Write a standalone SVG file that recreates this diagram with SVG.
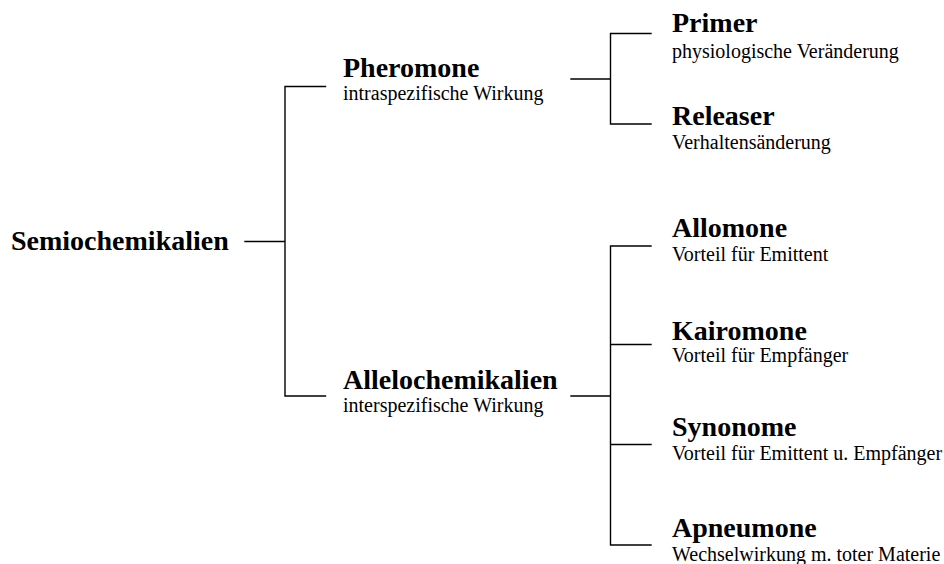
<svg xmlns="http://www.w3.org/2000/svg" width="944" height="564" viewBox="0 0 944 564">
<style>
.t{font-family:"Liberation Serif","Times New Roman",serif;font-weight:bold;font-size:28px;fill:#000}
.s{font-family:"Liberation Serif","Times New Roman",serif;font-size:20px;fill:#000}
.c{fill:none;stroke:#000;stroke-width:1.4;stroke-linecap:square}
</style>
<rect width="944" height="564" fill="#fff"/>
<g id="connectors">
<path class="c" d="M245,241.5 H285 M325.5,86.5 H285 V396 H325.5"/>
<path class="c" d="M571,79 H610.5 M651,33.5 H610.5 V124 H651"/>
<path class="c" d="M571,396 H610.5 M651,246 H610.5 V545 H651 M610.5,344.5 H651 M610.5,444.5 H651"/>
</g>
<g id="semiochemikalien"><text class="t" x="11" y="250">Semiochemikalien</text></g>
<g id="pheromone"><text class="t" x="343" y="77">Pheromone</text><text class="s" x="343" y="100">intraspezifische Wirkung</text></g>
<g id="allelochemikalien"><text class="t" x="343" y="389">Allelochemikalien</text><text class="s" x="343" y="412">interspezifische Wirkung</text></g>
<g id="primer"><text class="t" x="672" y="31.5">Primer</text><text class="s" x="672" y="58">physiologische Veränderung</text></g>
<g id="releaser"><text class="t" x="672" y="124.5">Releaser</text><text class="s" x="672" y="148.5">Verhaltensänderung</text></g>
<g id="allomone"><text class="t" x="672" y="237">Allomone</text><text class="s" x="672" y="261">Vorteil für Emittent</text></g>
<g id="kairomone"><text class="t" x="672" y="339.5">Kairomone</text><text class="s" x="672" y="362">Vorteil für Empfänger</text></g>
<g id="synonome"><text class="t" x="672" y="436">Synonome</text><text class="s" x="672" y="459.5">Vorteil für Emittent u. Empfänger</text></g>
<g id="apneumone"><text class="t" x="672" y="537">Apneumone</text><text class="s" x="672" y="561">Wechselwirkung m. toter Materie</text></g>
</svg>
